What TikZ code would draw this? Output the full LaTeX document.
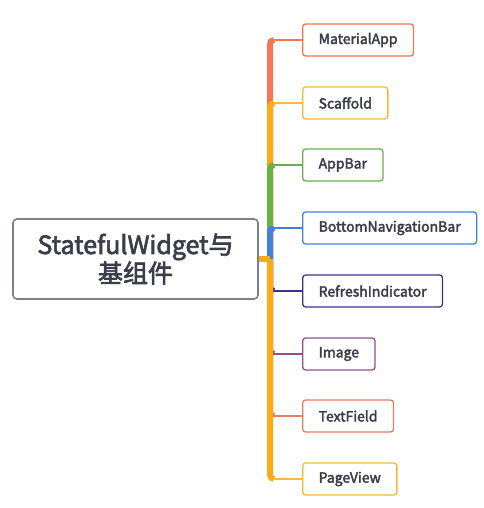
\documentclass[tikz,border=0pt]{standalone}
\usepackage{fontspec}
\setmainfont{Noto Sans CJK SC}
\newfontfamily\mindfont[FakeBold=2.6]{Noto Sans CJK SC}
\usetikzlibrary{calc,positioning}
\definecolor{mindred}{RGB}{245,118,82}
\definecolor{mindorange}{RGB}{252,172,18}
\definecolor{mindgreen}{RGB}{106,176,72}
\definecolor{mindblue}{RGB}{66,128,220}
\definecolor{mindnavy}{RGB}{56,50,136}
\definecolor{mindpurple}{RGB}{152,76,140}
\definecolor{mindsalmon}{RGB}{234,124,98}
\definecolor{mindyellow}{RGB}{248,184,58}
\definecolor{rootgray}{RGB}{122,128,140}
\definecolor{inkgray}{RGB}{58,62,74}

\begin{document}
\begin{tikzpicture}[
    x=1pt, y=-1pt,
    rootbox/.style={draw=rootgray, line width=1.6pt, rounded corners=4pt, fill=white, text=inkgray,
        font=\mindfont\fontsize{25}{28.5}\selectfont, align=center, minimum width=245pt, minimum height=80pt},
    leafbox/.style={draw=#1, line width=1.3pt, rounded corners=3pt, fill=white, text=inkgray,
        font=\mindfont\fontsize{14}{16}\selectfont, minimum height=32pt, inner xsep=16pt, anchor=west},
    spine/.style={line width=6pt, rounded corners=4pt},
    twig/.style={line width=1.6pt}
]

% Canvas
\useasboundingbox (0,0) rectangle (483,508);

% === Root topic ===
\node[rootbox] (root) at (135.5,259) {StatefulWidget与\\基组件};
\coordinate (hub) at (270,259);

% === Subtopics ===
\node[leafbox=mindred]    (mapp)    at (302,40)  {MaterialApp};
\node[leafbox=mindyellow] (scaf)    at (302,103) {Scaffold};
\node[leafbox=mindgreen]  (appbar)  at (302,165) {AppBar};
\node[leafbox=mindblue]   (botnav)  at (302,228) {BottomNavigationBar};
\node[leafbox=mindnavy]   (refresh) at (302,291) {RefreshIndicator};
\node[leafbox=mindpurple] (image)   at (302,354) {Image};
\node[leafbox=mindsalmon] (tfield)  at (302,416) {TextField};
\node[leafbox=mindyellow] (pview)   at (302,479) {PageView};

% Branches (later ones are drawn over the earlier ones on the spine)
\foreach \leaf/\spinecol/\twigcol in {mapp/mindred/mindred, scaf/mindorange/mindyellow,
        appbar/mindgreen/mindgreen, botnav/mindblue/mindblue, refresh/mindnavy/mindnavy,
        image/mindpurple/mindpurple, tfield/mindsalmon/mindsalmon, pview/mindorange/mindyellow} {
    \draw[spine, \spinecol] (hub) |- ($(\leaf.west)+(-28,0)$);
    \draw[twig, \twigcol] ($(\leaf.west)+(-29,0)$) -- (\leaf.west);
}

% Root connector
\draw[spine, mindorange, rounded corners=0pt] (root.east) -- (hub);

\end{tikzpicture}
\end{document}
